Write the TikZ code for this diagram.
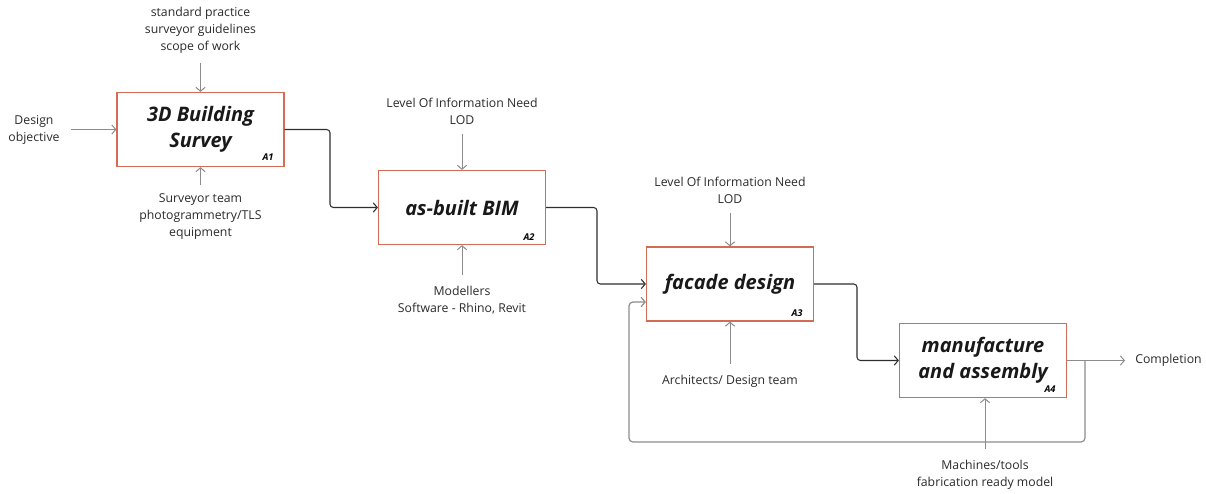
\documentclass[tikz,border=0pt]{standalone}
\usepackage{fontspec}
\setmainfont{Open Sans}
\usetikzlibrary{arrows.meta,calc}

\definecolor{boxred}{HTML}{D36B55}
\definecolor{linegray}{HTML}{8C8C8C}
\definecolor{linedark}{HTML}{2E2E2E}
\definecolor{textdark}{HTML}{2A2A2A}

\tikzset{
  procbox/.style={draw=boxred, line width=0.9pt, fill=white,
    minimum width=125.25pt, minimum height=55.5pt, align=center,
    inner sep=0pt, font=\fontsize{15}{19.5}\selectfont\bfseries\itshape, text=black!90},
  tag/.style={font=\fontsize{7}{7}\selectfont\bfseries\itshape, text=black, inner sep=0pt},
  note/.style={font=\fontsize{9.2}{12.75}\selectfont, text=textdark, align=center, inner sep=0pt},
  tip/.style={-{Straight Barb[length=3pt,width=7pt]}},
  ctrl/.style={tip, draw=linegray, line width=0.75pt},
  flow/.style={tip, draw=linedark, line width=0.8pt, rounded corners=2.5pt},
  loopline/.style={tip, draw=linegray, line width=0.9pt, rounded corners=3pt},
}

\begin{document}
\begin{tikzpicture}[x=0.75pt, y=-0.75pt]
\useasboundingbox (0,0) rectangle (1206,493);

% activity boxes
\node[procbox] (a1) at (200.5,129.5) {3D Building\\Survey};
\node[procbox] (a2) at (462,207.5) {as-built BIM};
\node[procbox] (a3) at (730,284) {facade design};
\node[procbox] (a4) at (983,360.5) {manufacture\\and assembly};

% box numbers
\node[tag] (t1) at (268,157) {A1};
\node[tag] (t2) at (529,237) {A2};
\node[tag] (t3) at (797,313) {A3};
\node[tag] (t4) at (1050,389) {A4};

% inputs, controls and mechanisms
\node[note] (c1) at (200.5,30.5) {standard practice\\surveyor guidelines\\scope of work};
\node[note] (i1) at (34,130) {Design\\objective};
\node[note] (m1) at (200.5,217) {Surveyor team\\photogrammetry/TLS\\equipment};

\node[note] (c2) at (462,111.5) {Level Of Information Need\\LOD};
\node[note] (m2) at (462,300.5) {Modellers\\Software - Rhino, Revit};

\node[note] (c3) at (730,190.5) {Level Of Information Need\\LOD};
\node[note] (m3) at (730,381) {Architects/ Design team};

\node[note] (m4) at (985,474.5) {Machines/tools\\fabrication ready model};
\node[note, anchor=west] (out) at (1135,360.5) {Completion};

% control and mechanism arrows
\draw[ctrl] ($(c1.south)+(0,9)$) -- (a1.north);
\draw[ctrl] ($(a1.west)+(-45,0)$) -- (a1.west);
\draw[ctrl] ($(m1.north)+(0,-9)$) -- (a1.south);

\draw[ctrl] ($(c2.south)+(0,9)$) -- (a2.north);
\draw[ctrl] ($(m2.north)+(0,-11)$) -- (a2.south);

\draw[ctrl] ($(c3.south)+(0,9)$) -- (a3.north);
\draw[ctrl] ($(m3.north)+(0,-11)$) -- (a3.south);

\draw[ctrl] ($(m4.north)+(0,-11)$) -- ($(a4.south)+(2,0)$);

% main flow between activities
\draw[flow] (a1.east) -| (330,168) |- (a2.west);
\draw[flow] (a2.east) -| (597,246) |- (a3.west);
\draw[flow] (a3.east) -| (857,322) |- (a4.west);

% output and feedback loop
\draw[ctrl] (a4.east) -- ($(out.west)+(-10,0)$);
\coordinate (split) at (1085,360.5);
\coordinate (a3back) at ($(a3.west)+(0,18)$);
\draw[loopline] (split) |- (629,442) |- (a3back);

\end{tikzpicture}
\end{document}
